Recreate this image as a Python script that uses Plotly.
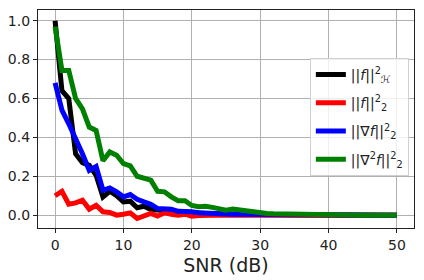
import plotly.graph_objects as go

snr = list(range(0, 51))

norm_h = [1.0, 0.64, 0.60, 0.316, 0.27, 0.256, 0.205, 0.094, 0.123, 0.10, 0.068,
          0.072, 0.038, 0.046, 0.029, 0.026, 0.022, 0.02, 0.015, 0.012, 0.01,
          0.009, 0.008, 0.007, 0.006, 0.005, 0.004, 0.004, 0.003, 0.003, 0.002,
          0.002, 0.002, 0.001, 0.001, 0.001, 0.001, 0.001, 0.0, 0.0, 0.0,
          0.0, 0.0, 0.0, 0.0, 0.0, 0.0, 0.0, 0.0, 0.0, 0.0]
norm_l2 = [0.10, 0.123, 0.056, 0.063, 0.077, 0.031, 0.051, 0.017, 0.014, 0.0, 0.005,
           0.012, -0.017, -0.005, 0.009, -0.005, 0.012, 0.005, 0.0, 0.005, -0.005,
           -0.002, 0.002, 0.0, 0.001, -0.001, 0.0, 0.0, 0.0, 0.0, 0.0,
           0.0, 0.0, 0.0, 0.0, 0.0, 0.0, 0.0, 0.0, 0.0, 0.0,
           0.0, 0.0, 0.0, 0.0, 0.0, 0.0, 0.0, 0.0, 0.0, 0.0]
grad = [0.68, 0.54, 0.47, 0.40, 0.316, 0.23, 0.25, 0.128, 0.14, 0.12, 0.094,
        0.106, 0.082, 0.068, 0.056, 0.034, 0.034, 0.031, 0.02, 0.02, 0.017,
        0.012, 0.009, 0.008, 0.007, 0.006, 0.005, 0.005, 0.004, 0.003, 0.003,
        0.002, 0.002, 0.001, 0.001, 0.001, 0.0, 0.0, 0.0, 0.0, 0.0,
        0.0, 0.0, 0.0, 0.0, 0.0, 0.0, 0.0, 0.0, 0.0, 0.0]
lap = [0.97, 0.744, 0.744, 0.60, 0.547, 0.453, 0.436, 0.28, 0.325, 0.308, 0.265,
       0.253, 0.20, 0.188, 0.18, 0.123, 0.12, 0.094, 0.074, 0.074, 0.05,
       0.043, 0.046, 0.04, 0.034, 0.026, 0.031, 0.026, 0.02, 0.017, 0.014,
       0.009, 0.007, 0.006, 0.005, 0.004, 0.003, 0.002, 0.002, 0.001, 0.001,
       0.001, 0.0, 0.0, 0.0, 0.0, 0.0, 0.0, 0.0, 0.0, 0.0]

names = ["||<i>f</i>||<sup>2</sup><sub>ℋ</sub>",
         "||<i>f</i>||<sup>2</sup><sub>2</sub>",
         "||∇<i>f</i>||<sup>2</sup><sub>2</sub>",
         "||∇<sup>2</sup><i>f</i>||<sup>2</sup><sub>2</sub>"]
colors = ["black", "red", "blue", "green"]
series = [norm_h, norm_l2, grad, lap]

fig = go.Figure()
for i, (nm, c, ys) in enumerate(zip(names, colors, series)):
    fig.add_trace(go.Scatter(x=snr, y=ys, mode="lines", name=nm,
                             legendgroup=f"g{i}",
                             line=dict(color=c, width=5)))

axis_common = dict(showline=True, linecolor="#222", linewidth=1.2, mirror=True,
                   showgrid=True, gridcolor="#b0b0b0", gridwidth=1,
                   ticks="outside", ticklen=4, tickcolor="#222",
                   zeroline=False, automargin=False,
                   tickfont=dict(size=14, color="#222"))

fig.update_layout(
    width=424, height=280,
    margin=dict(l=38, r=10, t=10, b=52, autoexpand=False),
    paper_bgcolor="white", plot_bgcolor="white",
    font=dict(family="DejaVu Sans", color="#222"),
    xaxis=dict(range=[-2.5, 52.5], tickvals=[0, 10, 20, 30, 40, 50],
               title=dict(text="SNR (dB)", font=dict(size=19), standoff=6),
               **axis_common),
    yaxis=dict(range=[-0.066, 1.055], tickvals=[0, 0.2, 0.4, 0.6, 0.8, 1.0],
               tickformat=".1f", **axis_common),
    legend=dict(x=0.723, y=0.78, xanchor="left", yanchor="top",
                bgcolor="rgba(255,255,255,0.8)", bordercolor="#d0d0d0",
                borderwidth=1, font=dict(size=14, color="#222"),
                tracegroupgap=7, itemwidth=30),
    showlegend=True,
)

fig.write_html("out.html", config={"displayModeBar": False},
               post_script="document.body.style.margin='0';document.body.style.overflow='hidden';")
